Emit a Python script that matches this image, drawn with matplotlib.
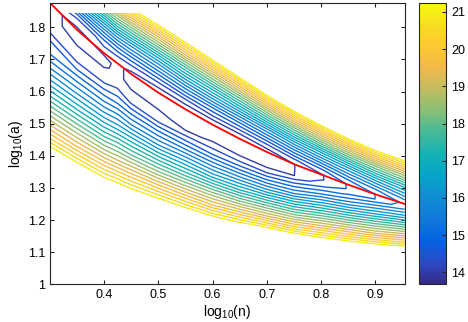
import numpy as np
import matplotlib
import matplotlib.pyplot as plt
from matplotlib.colors import LinearSegmentedColormap, Normalize
from matplotlib.ticker import FormatStrFormatter
from matplotlib.patches import Rectangle

plt.rcParams["font.family"] = ["Liberation Sans", "DejaVu Sans"]
plt.rcParams["mathtext.fontset"] = "custom"
plt.rcParams["mathtext.rm"] = "Liberation Sans"
plt.rcParams["mathtext.it"] = "Liberation Sans:italic"

# columns in log10(n) and the red valley line log10(a) at those columns
log_n = [0.301, 0.35, 0.40, 0.425, 0.45, 0.50, 0.55, 0.60, 0.65, 0.70, 0.75, 0.80, 0.85, 0.90, 0.954]
red_log_a = [1.876, 1.793, 1.720, 1.688, 1.655, 1.597, 1.545, 1.497, 1.453, 1.412, 1.374, 1.342, 1.310, 1.280, 1.250]

# rows: distance in log10(a) from the red line
offset = [-0.56, -0.48, -0.42, -0.36, -0.30, -0.25, -0.20, -0.16, -0.12, -0.09, -0.06, -0.035, -0.015,
          0.0, 0.015, 0.03, 0.05, 0.07, 0.09, 0.11, 0.13, 0.15, 0.17, 0.19, 0.21, 0.24]

# value read at each (offset, log_n) node
value = [
    [22.9, 22.9, 22.9, 22.9, 22.9, 22.9, 22.9, 22.9, 22.9, 22.9, 22.9, 22.9, 22.9, 22.9, 22.9],
    [21.8, 22.6, 22.9, 22.9, 22.9, 22.9, 22.9, 22.9, 22.9, 22.9, 22.9, 22.9, 22.9, 22.9, 22.9],
    [20.2, 21.1, 21.8, 22.2, 22.8, 22.9, 22.9, 22.9, 22.9, 22.9, 22.9, 22.9, 22.9, 22.9, 22.9],
    [18.8, 19.5, 20.2, 20.6, 21.0, 21.9, 22.8, 22.9, 22.9, 22.9, 22.9, 22.9, 22.9, 22.9, 22.9],
    [17.5, 18.1, 18.6, 18.9, 19.3, 20.0, 20.7, 21.5, 22.5, 22.9, 22.9, 22.9, 22.9, 22.9, 22.9],
    [16.5, 17.0, 17.4, 17.7, 17.9, 18.4, 19.0, 19.6, 20.5, 21.6, 22.6, 22.9, 22.9, 22.9, 22.9],
    [15.6, 16.0, 16.3, 16.5, 16.7, 17.0, 17.4, 17.9, 18.5, 19.3, 20.2, 21.1, 22.1, 22.9, 22.9],
    [15.0, 15.3, 15.5, 15.7, 15.7, 15.9, 16.3, 16.5, 17.0, 17.7, 18.4, 19.3, 20.2, 21.2, 22.5],
    [14.7, 14.6, 14.8, 14.9, 14.9, 15.0, 15.2, 15.4, 15.7, 16.1, 16.8, 17.6, 18.4, 19.2, 20.3],
    [14.3, 14.2, 14.3, 14.5, 14.3, 14.3, 14.5, 14.6, 14.8, 15.1, 15.6, 16.4, 17.1, 17.9, 18.8],
    [14.1, 14.1, 14.1, 14.1, 14.1, 14.1, 13.9, 14.1, 14.1, 14.2, 14.7, 15.3, 15.9, 16.6, 17.4],
    [14.1, 13.9, 13.95, 14.1, 13.9, 13.8, 13.8, 13.8, 13.8, 13.8, 14.0, 14.6, 15.1, 15.7, 16.3],
    [14.1, 13.9, 13.9, 14.1, 13.9, 13.8, 13.8, 13.8, 13.8, 13.8, 14.0, 14.3, 14.7, 15.0, 15.6],
    [14.1, 13.9, 14.1, 14.1, 13.9, 13.8, 13.8, 13.8, 13.8, 13.8, 14.0, 14.3, 14.7, 15.0, 15.4],
    [14.3, 14.1, 14.3, 14.2, 14.1, 14.0, 14.0, 14.0, 14.0, 14.1, 14.3, 14.6, 15.0, 15.3, 15.7],
    [14.8, 14.2, 14.4, 14.5, 14.4, 14.3, 14.3, 14.4, 14.4, 14.5, 14.8, 15.1, 15.5, 15.8, 16.2],
    [15.9, 14.7, 14.9, 15.0, 14.9, 14.8, 14.9, 14.9, 15.0, 15.2, 15.5, 15.9, 16.2, 16.6, 16.9],
    [17.5, 15.5, 15.5, 15.6, 15.5, 15.4, 15.5, 15.6, 15.7, 15.9, 16.3, 16.7, 17.1, 17.5, 17.8],
    [19.4, 16.4, 16.2, 16.3, 16.1, 16.0, 16.2, 16.3, 16.5, 16.8, 17.2, 17.7, 18.1, 18.4, 18.7],
    [21.7, 17.4, 17.0, 17.1, 16.9, 16.7, 16.9, 17.0, 17.3, 17.7, 18.1, 18.7, 19.1, 19.5, 19.7],
    [22.9, 18.7, 17.9, 17.9, 17.7, 17.5, 17.6, 17.8, 18.1, 18.6, 19.1, 19.7, 20.2, 20.6, 20.7],
    [22.9, 20.1, 18.9, 18.7, 18.5, 18.3, 18.4, 18.6, 19.0, 19.6, 20.1, 20.8, 21.3, 21.7, 21.8],
    [22.9, 21.6, 19.9, 19.7, 19.4, 19.1, 19.3, 19.5, 19.9, 20.6, 21.2, 22.0, 22.4, 22.8, 22.9],
    [22.9, 22.9, 21.0, 20.6, 20.3, 20.0, 20.1, 20.4, 20.9, 21.6, 22.3, 22.9, 22.9, 22.9, 22.9],
    [22.9, 22.9, 22.1, 21.7, 21.2, 20.9, 21.0, 21.3, 21.9, 22.7, 22.9, 22.9, 22.9, 22.9, 22.9],
    [22.9, 22.9, 22.9, 22.9, 22.7, 22.2, 22.3, 22.7, 22.9, 22.9, 22.9, 22.9, 22.9, 22.9, 22.9],
]

cbar_ticks = [14, 15, 16, 17, 18, 19, 20, 21]
zmin, zmax = 13.68, 21.24

parula = LinearSegmentedColormap.from_list("parula", [
    (0.2081, 0.1663, 0.5292), (0.1707, 0.2919, 0.7792), (0.0117, 0.3875, 0.8820),
    (0.0629, 0.4737, 0.8554), (0.0641, 0.5570, 0.8240), (0.0231, 0.6418, 0.7913),
    (0.0843, 0.6928, 0.7062), (0.2586, 0.7317, 0.5954), (0.5300, 0.7491, 0.4661),
    (0.7525, 0.7384, 0.3768), (0.9450, 0.7261, 0.2886), (0.9955, 0.7861, 0.1967),
    (0.9626, 0.8705, 0.1309), (0.9763, 0.9831, 0.0538)])
norm = Normalize(zmin, zmax)
levels = np.linspace(zmin, zmax, 24)[1:-1]

X, O = np.meshgrid(log_n, offset)
Y = np.array(red_log_a)[None, :] + O

fig = plt.figure(figsize=(4.68, 3.22), dpi=100)
ax = fig.add_axes([0.107, 0.117, 0.758, 0.874])
cax = fig.add_axes([0.895, 0.117, 0.058, 0.874])

cs = ax.contour(X, Y, np.array(value), levels=levels, cmap=parula, norm=norm, linewidths=1.0)
cs.set_clip_path(Rectangle((0.3, 0.9), 0.7, 0.945, transform=ax.transData))  # data stops at 1.845
ax.plot(log_n, red_log_a, color="red", lw=1.3)

ax.set_xlim(0.301, 0.954)
ax.set_ylim(1.0, 1.876)
ax.set_xticks([0.4, 0.5, 0.6, 0.7, 0.8, 0.9])
ax.set_yticks([1, 1.1, 1.2, 1.3, 1.4, 1.5, 1.6, 1.7, 1.8])
ax.yaxis.set_major_formatter(FormatStrFormatter("%g"))
ax.tick_params(direction="in", top=True, right=True, labelsize=9, length=3, color="0.15")
for s in ax.spines.values():
    s.set_color("0.15")
ax.set_xlabel("log$_{10}$(n)", fontsize=10, labelpad=1)
ax.set_ylabel("log$_{10}$(a)", fontsize=10, labelpad=2)

sm = matplotlib.cm.ScalarMappable(norm=norm, cmap=parula)
cb = fig.colorbar(sm, cax=cax)
cb.set_ticks(cbar_ticks)
cax.tick_params(direction="in", labelsize=9, length=3, color="0.15")
cb.outline.set_edgecolor("0.15")

fig.savefig("out.png", dpi=100)
